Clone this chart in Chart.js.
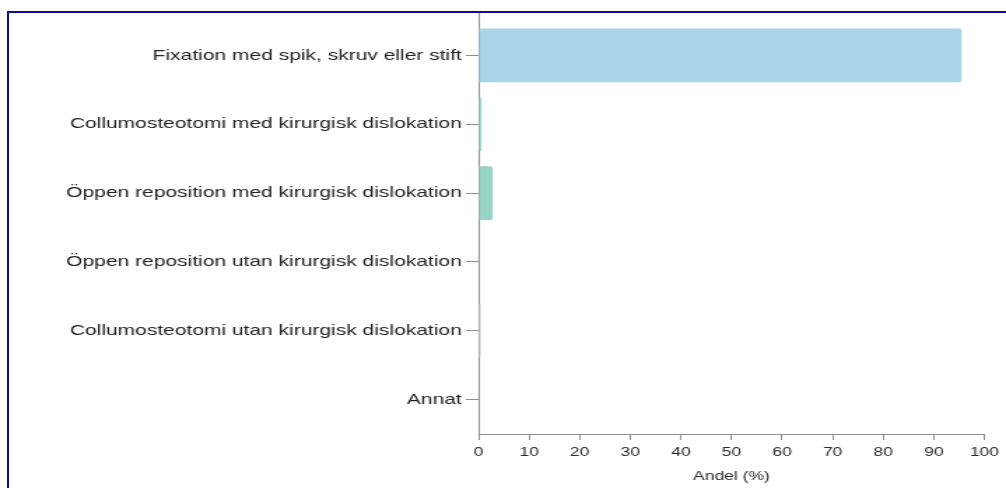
<!DOCTYPE html>
<html>
<head>
<meta charset="utf-8">
<script src="https://cdn.jsdelivr.net/npm/chart.js@4"></script>
<style>
  html, body { margin: 0; padding: 0; background: #ffffff; overflow: hidden; }
  body { width: 1006px; height: 488px; position: relative; }
  #frame {
    position: absolute; left: 7px; top: 11px; width: 1100px; height: 600px;
    border-top: 2px solid #0c0c9c; border-left: 2px solid #0c0c9c;
    box-sizing: border-box; pointer-events: none; z-index: 2;
  }
  #wrap {
    position: absolute; left: 0; top: 0; width: 719px; height: 488px;
    transform: scaleX(1.3992); transform-origin: 0 0;
  }
</style>
</head>
<body>
<div id="wrap"><canvas id="c"></canvas></div>
<div id="frame"></div>
<script>
const categories = [
  "Fixation med spik, skruv eller stift",
  "Collumosteotomi med kirurgisk dislokation",
  "Öppen reposition med kirurgisk dislokation",
  "Öppen reposition utan kirurgisk dislokation",
  "Collumosteotomi utan kirurgisk dislokation",
  "Annat"
];
const shares = [95.5, 0.6, 2.8, 0, 0.4, 0];
const xTickValues = [0, 10, 20, 30, 40, 50, 60, 70, 80, 90, 100];
const xTitle = "Andel (%)";
const barColors = ["#a9d5e8", "#a2d9cd", "#98d4c6", "#a8d5e8", "#c4c8c8", "#a8d5e8"];

const axisColor = "#8f8f8f";
const fontFamily = "'Liberation Sans', Arial, sans-serif";

const axisExtend = {
  id: 'axisExtend',
  afterDraw(chart) {
    const ctx = chart.ctx, a = chart.chartArea;
    ctx.save();
    ctx.strokeStyle = axisColor;
    ctx.lineWidth = 1;
    ctx.beginPath();
    ctx.moveTo(Math.round(a.left) + 0.5, 13);
    ctx.lineTo(Math.round(a.left) + 0.5, a.top);
    ctx.stroke();
    ctx.restore();
  }
};

new Chart(document.getElementById('c'), {
  type: 'bar',
  data: {
    labels: categories,
    datasets: [{
      data: shares,
      backgroundColor: barColors,
      borderWidth: 0,
      borderRadius: 2,
      borderSkipped: 'start',
      barPercentage: 0.78,
      categoryPercentage: 1.0
    }]
  },
  plugins: [axisExtend],
  options: {
    indexAxis: 'y',
    responsive: true,
    maintainAspectRatio: false,
    animation: false,
    devicePixelRatio: 1,
    layout: { padding: { top: 21, right: 15, left: 0, bottom: 0 } },
    plugins: { legend: { display: false }, tooltip: { enabled: false } },
    scales: {
      x: {
        type: 'linear',
        min: 0, max: 100,
        afterBuildTicks(scale) { scale.ticks = xTickValues.map(v => ({ value: v })); },
        afterFit(scale) { scale.height = 54; },
        border: { display: true, color: axisColor, width: 1 },
        grid: { display: true, drawOnChartArea: false, drawTicks: true, tickLength: 6, tickColor: axisColor },
        ticks: { color: "#2a2a2a", padding: 5, font: { family: fontFamily, size: 12.5 }, maxRotation: 0 },
        title: { display: true, text: xTitle, color: "#2a2a2a", font: { family: fontFamily, size: 12.5 }, padding: { top: 0, bottom: 4 } }
      },
      y: {
        type: 'category',
        afterFit(scale) { scale.width = 342; },
        border: { display: true, color: axisColor, width: 1 },
        grid: { display: true, offset: false, drawOnChartArea: false, drawTicks: true, tickLength: 9, tickColor: axisColor },
        ticks: { color: "#222222", padding: 3, font: { family: fontFamily, size: 15 }, autoSkip: false }
      }
    }
  }
});
</script>
</body>
</html>
